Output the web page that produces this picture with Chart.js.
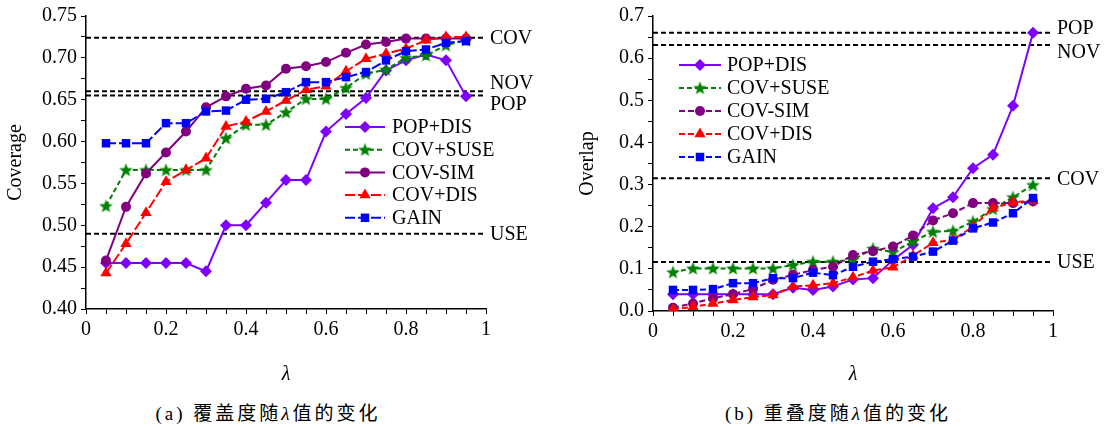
<!DOCTYPE html>
<html>
<head>
<meta charset="utf-8">
<script src="https://cdn.jsdelivr.net/npm/chart.js@4.4.1/dist/chart.umd.min.js"></script>
<style>
  html, body { margin: 0; padding: 0; background: #fff; }
  #wrap { position: relative; width: 1106px; height: 427px; overflow: hidden; }
  canvas { position: absolute; top: 0; }
  #cvA { left: 0; }
  #cvB { left: 553px; }
  .cap { position: absolute; top: 398px; font: 19px "Liberation Serif", "Times New Roman", "Noto Sans CJK SC", serif;
         white-space: nowrap; transform: translateX(-50%); letter-spacing: 3px; color: #000; }
</style>
</head>
<body>
<div id="wrap">
  <canvas id="cvA" width="553" height="395"></canvas>
  <canvas id="cvB" width="553" height="395"></canvas>
  <div class="cap" style="left:268px">(a) 覆盖度随<i>λ</i>值的变化</div>
  <div class="cap" style="left:838px">(b) 重叠度随<i>λ</i>值的变化</div>
</div>
<script>
// lambda values (x axis)
const lambdas = [0.05, 0.1, 0.15, 0.2, 0.25, 0.3, 0.35, 0.4, 0.45, 0.5,
                 0.55, 0.6, 0.65, 0.7, 0.75, 0.8, 0.85, 0.9, 0.95];
const seriesNames = ['POP+DIS', 'COV+SUSE', 'COV-SIM', 'COV+DIS', 'GAIN'];

// (a) coverage
const covPopDis  = [0.455, 0.455, 0.455, 0.455, 0.455, 0.445, 0.500, 0.500, 0.527, 0.554,
                    0.554, 0.612, 0.633, 0.652, 0.685, 0.697, 0.704, 0.697, 0.654];
const covCovSuse = [0.523, 0.566, 0.566, 0.566, 0.566, 0.566, 0.604, 0.620, 0.620, 0.635,
                    0.651, 0.651, 0.664, 0.681, 0.686, 0.700, 0.703, 0.715, 0.721];
const covCovSim  = [0.458, 0.522, 0.562, 0.587, 0.612, 0.641, 0.654, 0.663, 0.667, 0.687,
                    0.690, 0.695, 0.706, 0.716, 0.719, 0.723, 0.723, 0.723, 0.723];
const covCovDis  = [0.443, 0.478, 0.515, 0.552, 0.566, 0.580, 0.618, 0.624, 0.636, 0.649,
                    0.662, 0.666, 0.684, 0.699, 0.705, 0.711, 0.721, 0.725, 0.725];
const covGain    = [0.598, 0.598, 0.598, 0.622, 0.622, 0.636, 0.637, 0.650, 0.651, 0.659,
                    0.671, 0.671, 0.677, 0.683, 0.697, 0.708, 0.710, 0.718, 0.720];
const covRefNames  = ['COV', 'NOV', 'POP', 'USE'];
const covRefValues = [0.724, 0.660, 0.655, 0.490];

// (b) overlap
const ovPopDis  = [0.040, 0.040, 0.040, 0.040, 0.040, 0.040, 0.055, 0.050, 0.058, 0.075,
                   0.078, 0.121, 0.157, 0.244, 0.270, 0.339, 0.371, 0.487, 0.660];
const ovCovSuse = [0.092, 0.101, 0.101, 0.101, 0.101, 0.101, 0.109, 0.117, 0.117, 0.122,
                   0.148, 0.140, 0.165, 0.188, 0.190, 0.212, 0.242, 0.270, 0.299];
const ovCovSim  = [0.008, 0.018, 0.030, 0.040, 0.052, 0.074, 0.086, 0.097, 0.105, 0.133,
                   0.142, 0.153, 0.179, 0.215, 0.232, 0.256, 0.256, 0.256, 0.260];
const ovCovDis  = [0.004, 0.010, 0.018, 0.026, 0.033, 0.038, 0.058, 0.061, 0.066, 0.080,
                   0.096, 0.104, 0.131, 0.162, 0.169, 0.200, 0.244, 0.258, 0.262];
const ovGain    = [0.050, 0.050, 0.052, 0.066, 0.066, 0.078, 0.078, 0.091, 0.085, 0.105,
                   0.117, 0.123, 0.129, 0.141, 0.167, 0.196, 0.210, 0.232, 0.268];
const ovRefNames  = ['POP', 'NOV', 'COV', 'USE'];
const ovRefValues = [0.660, 0.631, 0.315, 0.116];

// styles
const seriesColors = ['#7f00ff', '#008000', '#800080', '#ff0000', '#0000ff'];
const seriesShapes = ['rectRot', 'star', 'circle', 'triangle', 'rect'];
const seriesRadius = [6, 7, 5, 6.5, 6];
const FONT = '"Liberation Serif", "Times New Roman", Times, "DejaVu Serif", serif';

// filled five-point star (Chart.js 'star' is only strokes)
function makeStar(color, outer, inner) {
  const c = document.createElement('canvas');
  const s = Math.ceil(outer * 2 + 2);
  c.width = s; c.height = s;
  const g = c.getContext('2d');
  g.fillStyle = color;
  g.beginPath();
  for (let i = 0; i < 10; i++) {
    const r = i % 2 ? inner : outer;
    const a = -Math.PI / 2 + i * Math.PI / 5;
    const px = s / 2 + r * Math.cos(a), py = s / 2 + 0.5 + r * Math.sin(a);
    i ? g.lineTo(px, py) : g.moveTo(px, py);
  }
  g.closePath();
  g.fill();
  return c;
}
const starImg = makeStar('#008000', 7.2, 3.0);

function drawMarker(ctx, shape, x, y, r, color) {
  if (shape === 'star') {
    ctx.drawImage(starImg, x - starImg.width / 2, y - starImg.height / 2);
    return;
  }
  ctx.save();
  ctx.fillStyle = color;
  ctx.beginPath();
  if (shape === 'circle') {
    ctx.arc(x, y, r, 0, Math.PI * 2);
  } else if (shape === 'rect') {
    const s = r * Math.SQRT1_2;
    ctx.rect(x - s, y - s, 2 * s, 2 * s);
  } else if (shape === 'rectRot') {
    ctx.moveTo(x, y - r); ctx.lineTo(x + r, y); ctx.lineTo(x, y + r); ctx.lineTo(x - r, y);
    ctx.closePath();
  } else if (shape === 'triangle') {
    const h = r * Math.sin(Math.PI * 2 / 3);
    ctx.moveTo(x, y - r); ctx.lineTo(x + h, y + r / 2); ctx.lineTo(x - h, y + r / 2);
    ctx.closePath();
  }
  ctx.fill();
  ctx.restore();
}

// legend drawn inside the plot
const boxLegend = {
  id: 'boxLegend',
  afterDatasetsDraw(chart, args, o) {
    const ctx = chart.ctx;
    ctx.save();
    ctx.font = '20px ' + FONT;
    ctx.textBaseline = 'middle';
    ctx.fillStyle = '#000';
    seriesNames.forEach((name, i) => {
      const y = o.y0 + i * o.dy;
      ctx.save();
      ctx.strokeStyle = seriesColors[i];
      ctx.lineWidth = 2;
      ctx.setLineDash(o.dashes[i]);
      ctx.beginPath();
      ctx.moveTo(o.x0, y); ctx.lineTo(o.x1, y);
      ctx.stroke();
      ctx.restore();
      drawMarker(ctx, seriesShapes[i], (o.x0 + o.x1) / 2, y, seriesRadius[i], seriesColors[i]);
      ctx.fillText(name, o.tx, y + 1);
    });
    ctx.restore();
  }
};

// names of the dashed reference lines, right of the plot
const refLabels = {
  id: 'refLabels',
  afterDraw(chart, args, o) {
    const ctx = chart.ctx;
    const ys = chart.scales.y;
    ctx.save();
    ctx.font = '20px ' + FONT;
    ctx.textBaseline = 'middle';
    ctx.fillStyle = '#000';
    o.names.forEach((n, i) => {
      ctx.fillText(n, chart.chartArea.right + 4, ys.getPixelForValue(o.values[i]) + o.dy[i] + 1);
    });
    ctx.restore();
  }
};

function buildDatasets(lists, dashes, refValues) {
  const sets = lists.map((vals, i) => ({
    label: seriesNames[i],
    data: lambdas.map((x, k) => ({ x: x, y: vals[k] })),
    showLine: true,
    borderColor: seriesColors[i],
    backgroundColor: seriesColors[i],
    borderWidth: 2,
    borderDash: dashes[i],
    pointStyle: seriesShapes[i] === 'star' ? starImg : seriesShapes[i],
    pointRadius: seriesRadius[i],
    pointBorderWidth: 0,
    pointBackgroundColor: seriesColors[i],
    order: 4 - i
  }));
  refValues.forEach(v => {
    sets.push({
      data: [{ x: 0, y: v }, { x: 1, y: v }],
      showLine: true,
      borderColor: '#000',
      borderWidth: 2,
      borderDash: [5, 3],
      pointRadius: 0,
      order: 10
    });
  });
  return sets;
}

function xScale(height) {
  return {
    type: 'linear', min: 0, max: 1,
    ticks: {
      stepSize: 0.05, autoSkip: false, maxRotation: 0, color: '#000', padding: 4,
      font: { family: FONT, size: 20 },
      callback: v => Math.abs(v * 5 - Math.round(v * 5)) < 1e-6 ? String(Math.round(v * 5) / 5) : ''
    },
    grid: { drawOnChartArea: false, tickLength: 5, color: '#000', tickColor: '#000' },
    border: { color: '#000', width: 1.5 },
    title: { display: true, text: 'λ', color: '#000',
             font: { family: FONT, size: 20, style: 'italic' }, padding: { top: 0, bottom: 8 } },
    afterFit: s => { s.height = height; }
  };
}

function yScale(min, max, step, every, digits, text, width, pad) {
  return {
    type: 'linear', min: min, max: max,
    ticks: {
      stepSize: step, autoSkip: false, color: '#000', padding: 4,
      font: { family: FONT, size: 20 },
      callback: v => Math.abs(v / every - Math.round(v / every)) < 1e-6 ? v.toFixed(digits) : ''
    },
    grid: { drawOnChartArea: false, tickLength: 5, color: '#000', tickColor: '#000' },
    border: { color: '#000', width: 1.5 },
    title: { display: true, text: text, color: '#000',
             font: { family: FONT, size: 20 }, padding: { top: pad, bottom: 0 } },
    afterFit: s => { s.width = width; }
  };
}

Chart.defaults.animation = false;

// (a) coverage vs lambda
new Chart(document.getElementById('cvA'), {
  type: 'scatter',
  data: {
    datasets: buildDatasets([covPopDis, covCovSuse, covCovSim, covCovDis, covGain],
      [[], [5, 3], [], [10, 3], [10, 3]], covRefValues)
  },
  options: {
    responsive: false,
    devicePixelRatio: 1,
    layout: { padding: { top: 15, right: 67, left: 0, bottom: 0 } },
    scales: {
      x: xScale(86),
      y: yScale(0.4, 0.75, 0.025, 0.05, 2, 'Coverage', 86, 4)
    },
    plugins: {
      legend: { display: false },
      tooltip: { enabled: false },
      boxLegend: { x0: 345, x1: 385, tx: 392, y0: 127, dy: 22.7,
                   dashes: [[], [5, 3], [], [10, 3], [10, 3]] },
      refLabels: { names: covRefNames, values: covRefValues, dy: [0, -9, 8, 0] }
    }
  },
  plugins: [boxLegend, refLabels]
});

// (b) overlap vs lambda
new Chart(document.getElementById('cvB'), {
  type: 'scatter',
  data: {
    datasets: buildDatasets([ovPopDis, ovCovSuse, ovCovSim, ovCovDis, ovGain],
      [[], [5, 3], [6, 3], [6, 3], [6, 3]], ovRefValues)
  },
  options: {
    responsive: false,
    devicePixelRatio: 1,
    layout: { padding: { top: 16, right: 53, left: 0, bottom: 0 } },
    scales: {
      x: xScale(84),
      y: yScale(0, 0.7, 0.05, 0.1, 1, 'Overlap', 100, 23)
    },
    plugins: {
      legend: { display: false },
      tooltip: { enabled: false },
      boxLegend: { x0: 126, x1: 168, tx: 174, y0: 65, dy: 23,
                   dashes: [[], [5, 3], [6, 3], [6, 3], [6, 3]] },
      refLabels: { names: ovRefNames, values: ovRefValues, dy: [-5, 7, 0, 0] }
    }
  },
  plugins: [boxLegend, refLabels]
});
</script>
</body>
</html>
